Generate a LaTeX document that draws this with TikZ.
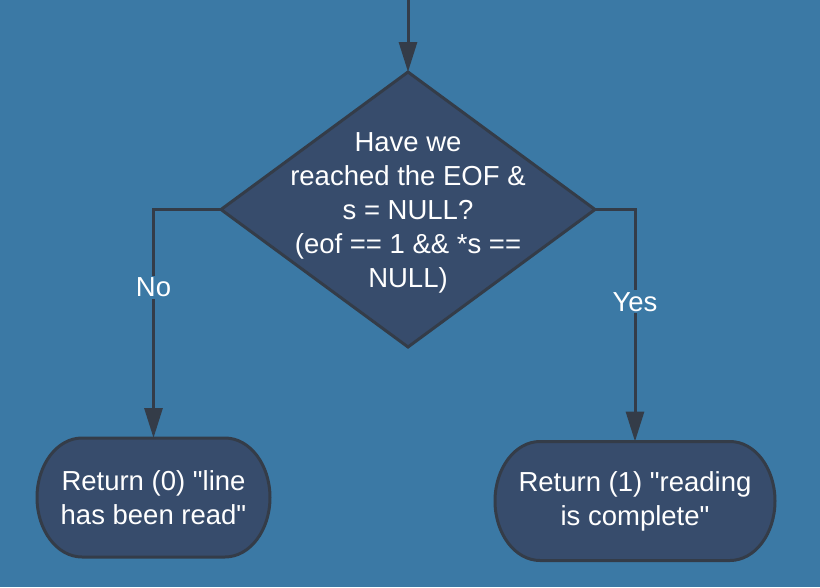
\documentclass[tikz,border=0pt]{standalone}
\usepackage{fontspec}
\setmainfont{Liberation Sans}[Ligatures=TeXOff]
\usetikzlibrary{shapes.geometric,arrows.meta}
\definecolor{bgblue}{HTML}{3B79A5}
\definecolor{boxfill}{HTML}{374C6C}
\definecolor{edgegray}{HTML}{343C48}
\pgfdeclarelayer{background}
\pgfsetlayers{background,main}
\tikzset{
  txt/.style={text=white, align=center, font=\fontsize{27.5}{34}\selectfont},
  decision/.style={diamond, draw=edgegray, fill=boxfill, line width=3pt,
    minimum width=374pt, minimum height=275pt, inner sep=0pt, outer sep=0pt},
  terminal/.style={txt, rectangle, inner sep=0pt, outer sep=0pt, minimum height=119pt},
  termline/.style={draw=edgegray, fill=boxfill, line width=3pt},
  flow/.style={draw=edgegray, line width=3pt, -{Triangle[width=18pt,length=30pt]}},
  tag/.style={txt, fill=bgblue, inner sep=2pt}
}
\begin{document}
\begin{tikzpicture}[x=1pt,y=-1pt]
    \useasboundingbox (0,0) rectangle (820,587);
    \begin{pgfonlayer}{background}
        \fill[bgblue] (0,0) rectangle (820,587);
    \end{pgfonlayer}
    \coordinate (entry) at (408,0);
    \node[decision] (check) at (408,209.5) {};
    \node[txt] (question) at (408,213) {Have we\\reached the EOF \&\\s = NULL?\\(eof == 1 \&\& *s ==\\NULL)};
    \node[terminal, minimum width=233pt] (ret0) at (153.5,497.5) {Return (0) "line\\has been read"};
    \node[terminal, minimum width=280pt] (ret1) at (635,501) {Return (1) "reading\\is complete"};
    % rounded outlines of the two terminals
    \begin{pgfonlayer}{background}
        \foreach \n in {ret0,ret1}
            \draw[termline] ([xshift=45pt]\n.north west) -- ([xshift=-45pt]\n.north east)
                arc[start angle=90, end angle=-90, x radius=45pt, y radius=59.5pt]
                -- ([xshift=45pt]\n.south west)
                arc[start angle=270, end angle=90, x radius=45pt, y radius=59.5pt] -- cycle;
    \end{pgfonlayer}
    \draw[flow] (entry) -- (check.north);
    \draw[flow] (check.west) -| (ret0.north) node[tag, pos=0.671] {No};
    \draw[flow] (check.east) -| (ret1.north) node[tag, pos=0.699] {Yes};
\end{tikzpicture}
\end{document}
